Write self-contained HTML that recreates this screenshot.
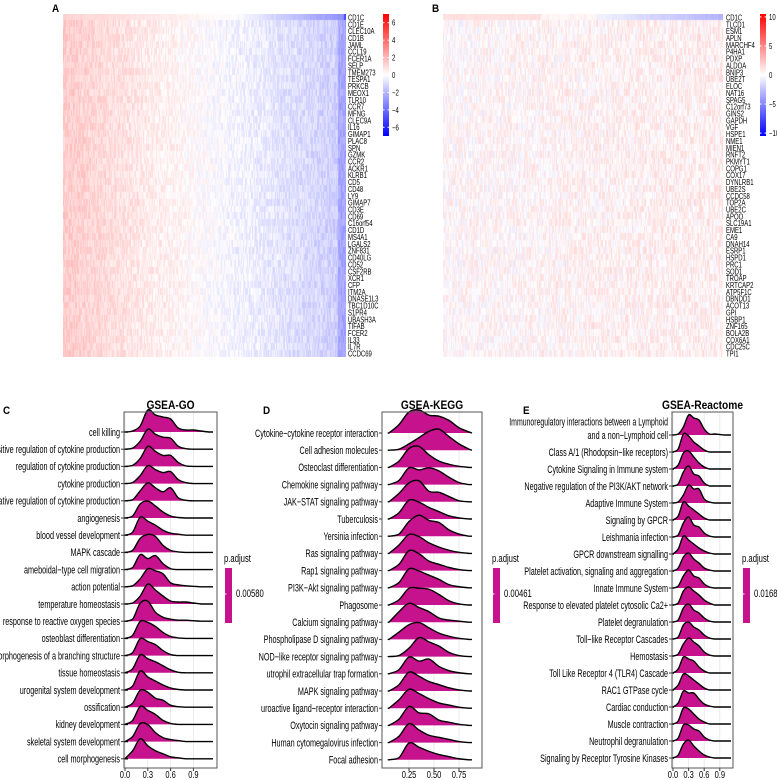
<!DOCTYPE html>
<html><head><meta charset="utf-8">
<style>
body{margin:0;background:#fff;width:777px;height:780px;overflow:hidden;position:relative;font-family:"Liberation Sans",sans-serif;}
canvas{position:absolute;}
svg{position:absolute;left:0;top:0;}
</style></head><body>
<canvas id="hmA" width="283" height="343" style="left:63px;top:14px"></canvas>
<canvas id="hmB" width="280" height="343" style="left:443px;top:14px"></canvas>
<svg id="fig" width="777" height="780">
<defs>
<linearGradient id="cb" x1="0" y1="0" x2="0" y2="1">
<stop offset="0" stop-color="#ff0000"/><stop offset="0.5" stop-color="#ffffff"/><stop offset="1" stop-color="#0000ff"/>
</linearGradient>
</defs>
<g id="layer"></g>
</svg>
<script>
const genesA=["CD1C","CD1E","CLEC10A","CD1B","JAML","CCL19","FCER1A","SELP","TMEM273","TESPA1","PRKCB","MEOX1","TLR10","CCR7","MFNG","CLEC9A","IL16","GIMAP1","PLAC8","SPN","GZMK","CCR2","ACKR1","KLRB1","CD5","CD48","LY9","GIMAP7","CD3E","CD69","C16orf54","CD1D","MS4A1","LGALS2","ZNF831","CD40LG","CD52","CSF2RB","XCR1","CFP","ITM2A","DNASE1L3","TBC1D10C","S1PR4","UBASH3A","TIFAB","FCER2","IL33","IL7R","CCDC69"];
const genesB=["CD1C","TLCD1","ESM1","APLN","MARCHF4","P4HA1","PDXP","ALDOA","BNIP3","UBE2T","ELOC","NAT16","SPAG5","C12orf73","GINS2","GAPDH","VGF","HSPE1","NME1","MIEN1","RNFT2","PKMYT1","COPG1","COX17","DYNLRB1","UBE2S","CCDC58","TOP2A","UBE2C","APOO","SLC19A1","EME1","CA9","DNAH14","ESRP1","HSPD1","PRC1","SOD1","TROAP","KRTCAP2","ATP5F1C","DBNDD1","ACOT13","GPI","HSBP1","ZNF165","BOLA2B","COX6A1","CDC25C","TPI1"];
const ticksA=[6,4,2,0,-2,-4,-6];
const ticksB=[10,5,0,-5,-10];

const goTerms=["cell killing","positive regulation of cytokine production","regulation of cytokine production","cytokine production","negative regulation of cytokine production","angiogenesis","blood vessel development","MAPK cascade","ameboidal−type cell migration","action potential","temperature homeostasis","response to reactive oxygen species","osteoblast differentiation","morphogenesis of a branching structure","tissue homeostasis","urogenital system development","ossification","kidney development","skeletal system development","cell morphogenesis"];
const goX=[0,0.1,0.2,0.3,0.4,0.5,0.6,0.7,0.8,0.9,1.0,1.1];
const goD=[[0,1,6,22,17,15,13,4,2,2,1,0],[0,1,8,20,15,12,11,3,0.5,0,0,0],[0,1,8,20,15,11,11,4,0.5,0,0,0],[0,1,8,18,14,11,12,4,1,0,0,0],[0,1,10,18,13,9,13,3,0.5,0,0,0],[0,2,14,17,12,6,2,0.5,0,0,0,0],[0,3,18,14,10,5,2,1,0,0,0,0],[0,2,14,18,16,7,2,0.5,0,0,0,0],[0,2,15,11,14,6,1,0,0,0,0,0],[0,1,8,18,16,13,4,2,1,0.5,0,0],[0,1,8,20,14,8,3,2,2,1,0,0],[0,2,18,20,9,4,2,1,1,0.5,0,0],[0,3,17,16,12,6,2,0.5,0,0,0,0],[0,3,17,14,11,5,1,0,0,0,0,0],[0,4,18,14,11,7,3,0.5,0,0,0,0],[0,4,19,13,9,5,2,0.5,0,0,0,0],[0,4,17,15,9,7,2,0.5,0,0,0,0],[0,4,18,14,10,4,1,0,0,0,0,0],[0,5,18,17,9,4,2,1,0,0,0,0],[0,8,20,13,8,5,2,1,0,0,0,0]];
const goTicks=[0.0,0.3,0.6,0.9];

const keggTerms=["Cytokine−cytokine receptor interaction","Cell adhesion molecules","Osteoclast differentiation","Chemokine signaling pathway","JAK−STAT signaling pathway","Tuberculosis","Yersinia infection","Ras signaling pathway","Rap1 signaling pathway","PI3K−Akt signaling pathway","Phagosome","Calcium signaling pathway","Phospholipase D signaling pathway","NOD−like receptor signaling pathway","utrophil extracellular trap formation","MAPK signaling pathway","uroactive ligand−receptor interaction","Oxytocin signaling pathway","Human cytomegalovirus infection","Focal adhesion"];
const keggX=[0.05,0.15,0.25,0.35,0.45,0.55,0.65,0.75,0.85];
const keggD=[[0,8,20,22,17,16,12,5,1],[0,1,6,12,18,20,13,6,1],[0,6,18,20,12,6,3,1,0],[0,4,16,14,16,13,7,2,0],[0,8,18,20,10,9,5,1,0],[0,6,18,16,11,7,3,1,0],[0,2,14,20,15,13,6,2,0],[0,8,18,16,10,6,3,1,0],[0,6,19,16,9,6,3,1,0],[0,5,18,16,12,8,3,1,0],[0,5,16,16,15,10,4,1,0],[0,10,18,14,10,4,2,1,0],[0,7,14,16,11,6,3,1,0],[0,1,8,18,14,10,4,1,0],[0,4,16,12,14,7,3,1,0],[0,6,18,14,9,6,3,1,0],[0,8,18,14,9,5,3,1,0],[0,6,18,12,11,5,3,1,0],[0,6,18,12,7,5,3,1,0],[0,2,16,12,8,5,3,1,0]];
const keggTicks=[0.25,0.50,0.75];

const reTerms=["and a non−Lymphoid cell","Class A/1 (Rhodopsin−like receptors)","Cytokine Signaling in Immune system","Negative regulation of the PI3K/AKT network","Adaptive Immune System","Signaling by GPCR","Leishmania infection","GPCR downstream signalling","Platelet activation, signaling and aggregation","Innate Immune System","Response to elevated platelet cytosolic Ca2+","Platelet degranulation","Toll−like Receptor Cascades","Hemostasis","Toll Like Receptor 4 (TLR4) Cascade","RAC1 GTPase cycle","Cardiac conduction","Muscle contraction","Neutrophil degranulation","Signaling by Receptor Tyrosine Kinases"];
const reX=[0,0.1,0.2,0.3,0.4,0.5,0.6,0.7,0.8,0.9,1.0,1.1];
const reD=[[0,1,8,20,17,15,6,1,1,0.5,0,0],[0,3,18,16,10,6,2,0,0,0,0,0],[0,4,16,18,12,6,2,0,0,0,0,0],[0,2,14,20,12,10,3,0,0,0,0,0],[0,1,8,18,14,14,4,1,0,0,0,0],[0,4,18,14,10,6,2,0,0,0,0,0],[0,2,14,20,12,10,4,1,0,0,0,0],[0,5,18,14,10,6,3,1,0,0,0,0],[0,3,14,18,12,8,3,1,0,0,0,0],[0,2,12,18,12,10,4,1,0,0,0,0],[0,2,14,18,14,10,5,2,0,0,0,0],[0,2,14,18,12,9,4,1,0,0,0,0],[0,2,14,17,12,9,4,1,0,0,0,0],[0,2,12,18,14,10,4,1,0,0,0,0],[0,4,16,14,12,6,2,0,0,0,0,0],[0,5,16,14,10,6,2,0,0,0,0,0],[0,4,16,14,14,8,3,1,0,0,0,0],[0,3,16,15,10,5,2,0,0,0,0,0],[0,3,16,16,12,10,4,1,0,0,0,0],[0,3,14,18,12,7,3,1,0,0,0,0]];
const reTicks=[0.0,0.3,0.6,0.9];

const NS="http://www.w3.org/2000/svg";
const layer=document.getElementById('layer');
function mk(tag,attrs,parent){const e=document.createElementNS(NS,tag);for(const k in attrs)e.setAttribute(k,attrs[k]);(parent||layer).appendChild(e);return e;}
function txt(x,y,s,size,anchor,weight,parent,sc){const g=mk('g',{transform:`translate(${x},${y}) scale(${sc||0.7},1)`},parent);const t=mk('text',{x:0,y:0,'font-size':size,'text-anchor':anchor||'start','font-weight':weight||'normal',fill:'#000'},g);t.textContent=s;return t;}

function hash(i,j,s){let h=(i*374761393+j*668265263+s*2147483647)|0;h=(h^(h>>>13))*1274126177|0;h=h^(h>>>16);return ((h>>>0)%10000)/10000;}
function col(t){t=Math.max(-1,Math.min(1,t));if(t>0){const v=Math.round(255*(1-t));return `rgb(255,${v},${v})`;}const v=Math.round(255*(1+t));return `rgb(${v},${v},255)`;}
function drawHM(id,w,rows,fn){const c=document.getElementById(id).getContext('2d');const rh=343/rows;for(let r=0;r<rows;r++){for(let x=0;x<w;x++){c.fillStyle=col(fn(x/w,r,x));c.fillRect(x,Math.floor(r*rh),1,Math.ceil(rh)+1);}}}
drawHM('hmA',283,50,(f,r,x)=>{let base=0.2*(1-2*f);if(f>0.97)base-=0.15;let n=(hash(x,r,1)-0.5)*0.16;if(r===0){base=f<0.6?0.18*(1-f/0.6):-0.45*(f-0.6)/0.4;n*=0.3;if(f>0.99)base=-0.7;}return base+n;});
drawHM('hmB',280,50,(f,r,x)=>{let base=0.02+0.04*f;let n=(hash(x,r,7)-0.5)*0.22;if(r===0){base=f<0.35?0.12:(f<0.55?0.04:-0.05-0.25*(f-0.55)/0.45);n*=0.2;}return base+n;});

function geneLabels(list,x,name){const g=mk('g',{});list.forEach((s,i)=>{const t=txt(x,14+(i+0.5)*343/50+3,s,8.3,'start','normal',g,0.72);});}
geneLabels(genesA,348,'gene-labels-a');
geneLabels(genesB,726,'gene-labels-b');
[['A',52,12],['B',432,12],['C',3,414],['D',263,414],['E',523,414]].forEach(p=>{const t=txt(p[1],p[2],p[0],11,'start','bold',null,0.9);});
function colorbar(x,ticks,maxv,name){const g=mk('g',{});mk('rect',{x:x,y:14,width:6,height:122,fill:'url(#cb)'},g);const y0=75,scale=61/maxv;ticks.forEach(v=>{const y=y0-v*scale;mk('line',{x1:x,x2:x+1.5,y1:y,y2:y,stroke:'#fff'},g);mk('line',{x1:x+4.5,x2:x+6,y1:y,y2:y,stroke:'#fff'},g);txt(x+9,y+3,v<0?'−'+(-v):String(v),8,'start','normal',g,0.75);});}
colorbar(383,ticksA,7,'colorbar-a');
colorbar(760,ticksB,10.5,'colorbar-b');

function ridge(o){
  const g=mk('g',{});
  const sx=v=>o.x0+(v-o.v0)*o.k;
  const rowY=i=>o.y0+i*o.step;
  mk('rect',{x:o.left,y:o.top,width:o.right-o.left,height:o.bottom-o.top,fill:'#fff'},g);
  o.gridv.forEach(v=>mk('line',{x1:sx(v),x2:sx(v),y1:o.top,y2:o.bottom,stroke:'#e6e6e6','stroke-width':0.8},g));
  o.ticks.forEach(v=>{mk('line',{x1:sx(v),x2:sx(v),y1:o.bottom,y2:o.bottom+3,stroke:'#333'},g);const t=txt(sx(v),o.bottom+10,v.toFixed(o.dec),10,'middle','normal',g,0.75);});
  const cg=mk('g',{},g);
  o.data.forEach((d,i)=>{
    const by=rowY(i);
    const pts=o.xs.map((v,j)=>[sx(v),by-d[j]*o.amp]);
    pts.unshift([o.lineStart,by]);pts.push([o.lineEnd,by]);
    let path=`M${pts[0][0]},${pts[0][1]}`;
    for(let j=0;j<pts.length-1;j++){const p0=pts[Math.max(0,j-1)],p1=pts[j],p2=pts[j+1],p3=pts[Math.min(pts.length-1,j+2)];
      const c1=[p1[0]+(p2[0]-p0[0])/6,Math.min(by,p1[1]+(p2[1]-p0[1])/6)],c2=[p2[0]-(p3[0]-p1[0])/6,Math.min(by,p2[1]-(p3[1]-p1[1])/6)];
      path+=` C${c1[0]},${c1[1]} ${c2[0]},${c2[1]} ${p2[0]},${p2[1]}`;}
    const f=mk('path',{d:path+` L${o.lineEnd},${by} L${o.lineStart},${by} Z`,fill:'#c6128c',stroke:'none'},cg);
    
    const l=mk('path',{d:path,fill:'none',stroke:'#000','stroke-width':1.4},cg);
    
    mk('line',{x1:o.left-3,x2:o.left,y1:by,y2:by,stroke:'#333'},g);
    const t=txt(o.left-4,by+3.8,o.terms[i],11,'end','normal',g,0.66);
  });
  if(o.extra){const t=txt(o.left-4,rowY(0)-9.5,o.extra,11,'end','normal',g,0.63);}
  mk('rect',{x:o.left,y:o.top,width:o.right-o.left,height:o.bottom-o.top,fill:'none',stroke:'#555','stroke-width':1},g);
  const tt=txt((o.left+o.right)/2,o.top-3,o.title,12,'middle','bold',g,0.85);
  const lg=mk('g',{},g);
  txt(o.legX,562,'p.adjust',11,'start','normal',lg,0.7);
  mk('rect',{x:o.legX+1,y:568,width:7,height:55,fill:'#c6128c'},lg);
  mk('line',{x1:o.legX+1,x2:o.legX+2.5,y1:594,y2:594,stroke:'#fff'},lg);
  txt(o.legX+12,597,o.pval,11,'start','normal',lg,0.7);
}
ridge({name:'gsea-go-plot',title:'GSEA-GO',terms:goTerms,data:goD,xs:goX,ticks:goTicks,gridv:goTicks,dec:1,left:124,right:217,top:412,bottom:768,x0:125,v0:0,k:76,y0:432,step:17.2,amp:1,lineStart:128,lineEnd:213,legX:224,pval:'0.00580'});
ridge({name:'gsea-kegg-plot',title:'GSEA-KEGG',terms:keggTerms,data:keggD,xs:keggX,ticks:keggTicks,gridv:keggTicks,dec:2,left:382,right:482,top:412,bottom:768,x0:384,v0:0,k:100,y0:433,step:17.2,amp:1.05,lineStart:389,lineEnd:472,legX:492,pval:'0.00461'});
ridge({name:'gsea-reactome-plot',title:'GSEA-Reactome',terms:reTerms,data:reD,xs:reX,ticks:reTicks,gridv:reTicks,dec:1,left:672,right:733,top:412,bottom:768,x0:673,v0:0,k:52,y0:435,step:17.0,amp:1,lineStart:674,lineEnd:731,legX:742,pval:'0.01687',extra:'Immunoregulatory interactions between a Lymphoid'});
</script>
</body></html>
